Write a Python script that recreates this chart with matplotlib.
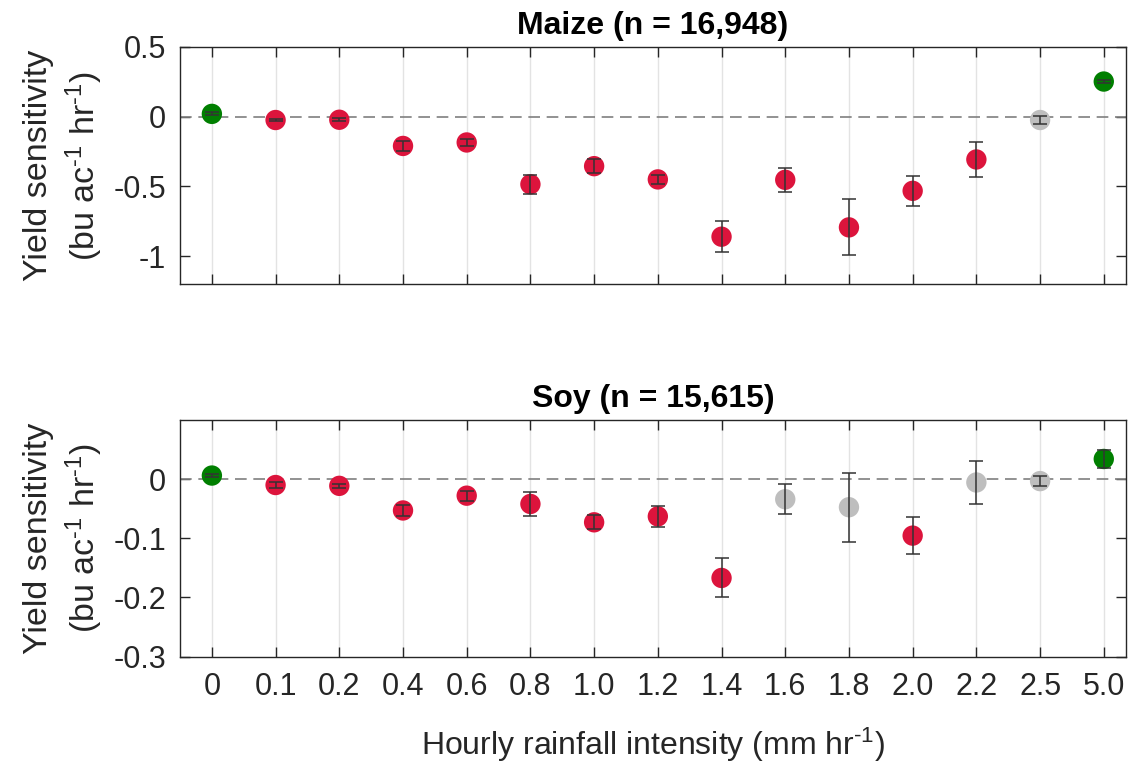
import numpy as np
import matplotlib
matplotlib.use("Agg")
import matplotlib.pyplot as plt

plt.rcParams['font.family'] = ['Liberation Sans', 'DejaVu Sans']
plt.rcParams['mathtext.fontset'] = 'custom'
plt.rcParams['mathtext.rm'] = 'Liberation Sans'
plt.rcParams['mathtext.it'] = 'Liberation Sans:italic'
plt.rcParams['axes.unicode_minus'] = False

# rainfall intensity bins
bins = ['0', '0.1', '0.2', '0.4', '0.6', '0.8', '1.0', '1.2', '1.4',
        '1.6', '1.8', '2.0', '2.2', '2.5', '5.0']

# maize coefficients, standard errors and significance class
maize_coef = [0.02, -0.024, -0.022, -0.21, -0.185, -0.485, -0.355, -0.45,
              -0.861, -0.453, -0.794, -0.532, -0.307, -0.024, 0.252]
maize_err = [0.01, 0.01, 0.01, 0.034, 0.025, 0.068, 0.05, 0.035,
             0.11, 0.085, 0.2, 0.108, 0.128, 0.03, 0.012]
maize_sig = ['pos', 'neg', 'neg', 'neg', 'neg', 'neg', 'neg', 'neg',
             'neg', 'neg', 'neg', 'neg', 'neg', 'ns', 'pos']

# soy coefficients, standard errors and significance class
soy_coef = [0.006, -0.010, -0.0114, -0.053, -0.028, -0.042, -0.073, -0.063,
            -0.167, -0.034, -0.0475, -0.0955, -0.0057, -0.0034, 0.034]
soy_err = [0.002, 0.005, 0.003, 0.0085, 0.0085, 0.02, 0.012, 0.018,
           0.033, 0.025, 0.058, 0.031, 0.036, 0.009, 0.016]
soy_sig = ['pos', 'neg', 'neg', 'neg', 'neg', 'neg', 'neg', 'neg',
           'neg', 'ns', 'ns', 'neg', 'ns', 'ns', 'pos']

sig_colors = {'pos': '#007f00', 'neg': '#dc143c', 'ns': '#bebebe'}
txt = '#262626'

fig = plt.figure(figsize=(11.28, 7.65), dpi=100)
ax1 = fig.add_axes([0.1596, 0.6288, 0.8387, 0.3098])
ax2 = fig.add_axes([0.1596, 0.1416, 0.8387, 0.3095])

x = np.arange(1, len(bins) + 1)
panels = [
    (ax1, maize_coef, maize_err, maize_sig, 'Maize (n = 16,948)',
     (-1.2, 0.5), [-1, -0.5, 0, 0.5], ['-1', '-0.5', '0', '0.5']),
    (ax2, soy_coef, soy_err, soy_sig, 'Soy (n = 15,615)',
     (-0.3, 0.1), [-0.3, -0.2, -0.1, 0], ['-0.3', '-0.2', '-0.1', '0']),
]

# hyphen-style superscript, as in the tick labels
sup = '$^{\u2010\\mathregular{1}}$'

for ax, coef, err, sig, title, ylim, yt, ytl in panels:
    ax.axhline(0, color='#7f7f7f', lw=1.2, dashes=(7, 4), zorder=1)
    ax.scatter(x, coef, s=215, c=[sig_colors[s] for s in sig],
               edgecolors='none', zorder=2)
    ax.errorbar(x, coef, yerr=err, fmt='none', ecolor='#333333',
                elinewidth=1.1, capsize=4.8, capthick=1.1, zorder=3)
    ax.set_xlim(0.5, 15.35)
    ax.set_ylim(*ylim)
    ax.set_yticks(yt)
    ax.set_yticklabels(ytl)
    ax.set_xticks(x)
    ax.grid(axis='x', color='#e3e3e3', lw=1, zorder=0)
    ax.set_axisbelow(True)
    ax.tick_params(direction='in', length=7, width=1, top=True, right=True,
                   labelsize=22, colors=txt)
    ax.tick_params(axis='y', pad=10)
    ax.tick_params(axis='x', pad=11)
    for sp in ax.spines.values():
        sp.set_color(txt)
        sp.set_linewidth(1)
    ax.set_title(title, fontsize=23, fontweight='bold', pad=9)
    ax.set_ylabel('Yield sensitivity\n(bu ac' + sup + ' hr' + sup + ')',
                  fontsize=24.5, color=txt, linespacing=1.3, labelpad=6)

ax1.set_xticklabels([])
ax2.set_xticklabels(bins)
ax2.set_xlabel('Hourly rainfall intensity (mm hr' + sup + ')', fontsize=23,
               color=txt, labelpad=17)

fig.savefig('out.png', dpi=100)
